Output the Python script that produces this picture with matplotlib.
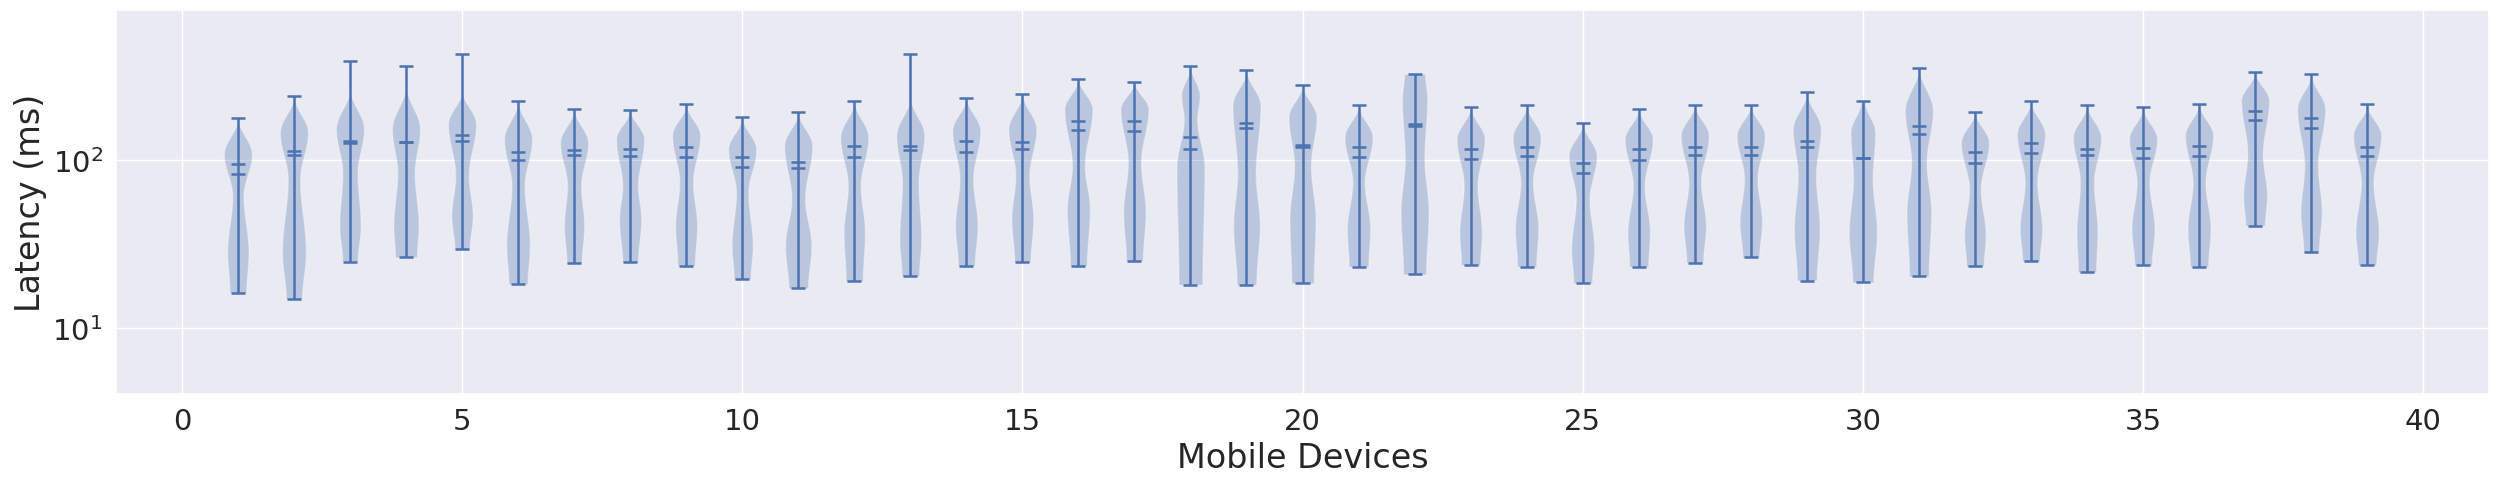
import matplotlib
matplotlib.use("Agg")
import matplotlib.pyplot as plt
import numpy as np
import seaborn as sns

# latency per mobile device (ms)
devices = np.arange(1, 40)
lat_min = [16.2, 14.8, 24.8, 26.3, 29.3, 18.2, 24.2, 24.5, 23.4, 19.5,
           17.2, 18.9, 20.2, 23.4, 24.6, 23.4, 25.1, 18.05, 18.0, 18.4,
           23.1, 20.8, 23.6, 23.1, 18.4, 23.1, 24.4, 26.3, 19.1, 18.6,
           20.2, 23.2, 24.9, 21.4, 23.5, 23.1, 40.6, 28.1, 23.6]
lat_max = [177, 240, 391, 362, 427, 224, 200.5, 199.6, 214.8, 180.5,
           193.3, 224, 427, 235.4, 248.7, 304, 291.8, 362, 343, 281.4,
           211.8, 326, 208, 211.8, 166.3, 201.4, 213.8, 212.8, 253.2, 224,
           355.4, 194, 224, 212.8, 206, 216.7, 336.5, 326, 214.8]
lat_median = [94.7, 113, 130.4, 127.5, 140.9, 112.1, 115.2, 116.8, 120.1, 104.7,
              97.3, 121.8, 120.6, 129.8, 128.6, 170.9, 170.1, 137, 165.5, 122.9,
              119, 164, 115.8, 119, 95.5, 115.8, 119.5, 120.1, 129.2, 102.3,
              159.5, 112.1, 126.3, 116.8, 117.9, 120.6, 195, 178, 120.1]
lat_mean = [82.5, 106.6, 126.9, 127.5, 129.2, 100.5, 107.1, 106.1, 104.2, 91.2,
            89.6, 104.7, 115.2, 112.1, 115.8, 151, 149.6, 115.8, 154.5, 119,
            104.7, 160.2, 101.4, 105.2, 83.3, 100.5, 106.6, 107.1, 119.5, 102.3,
            143.6, 96.4, 110.6, 107.1, 102.3, 106.1, 173.2, 155.2, 106.1]

# density profile: where the body ends on top, and its bulges / waist
lat_tip = [177, 240, 265, 277, 259, 224, 200.5, 199.6, 214.8, 180.5,
           193.3, 224, 236, 235.4, 248.7, 304, 291.8, 362, 343, 281.4,
           211.8, 326, 208, 211.8, 166.3, 201.4, 213.8, 212.8, 253.2, 224,
           355.4, 194, 224, 212.8, 206, 216.7, 336.5, 326, 214.8]
w_tip = [0.03] * 21 + [0.75] + [0.03] * 7 + [0.15] + [0.03] * 9
lat_hi = [108.6, 146, 153, 153, 164, 133, 127, 133, 140, 116,
          121.8, 136.5, 140, 149.6, 153, 201, 201, 242, 211, 179.7,
          136.5, 231, 133, 136.5, 106.1, 133, 140, 140, 153, 146,
          197, 127, 142.9, 136.5, 133, 140, 226, 201, 140]
w_hi = [1.0] * 17 + [0.66, 1.0, 1.0, 1.0, 0.9] + [1.0] * 7 + [0.88] + [1.0] * 9
lat_waist = [61, 77, 84, 84, 80.7, 70.3, 70.3, 70, 73.6, 64,
             58.5, 70.3, 73.6, 77, 80.7, 92.5, 96.9, 175, 84, 92.5,
             73.6, 101, 70.3, 73.6, 58.5, 70.3, 73.6, 77, 80.7, 77,
             96.9, 67.2, 73.6, 73.6, 73.6, 73.6, 108.6, 92.5, 73.6]
w_waist = [0.40, 0.44, 0.54, 0.62, 0.48, 0.47, 0.50, 0.56, 0.49, 0.44,
           0.49, 0.46, 0.59, 0.49, 0.50, 0.46, 0.47, 0.48, 0.66, 0.60,
           0.44, 0.70, 0.49, 0.45, 0.49, 0.42, 0.45, 0.48, 0.65, 0.70,
           0.55, 0.42, 0.45, 0.50, 0.46, 0.46, 0.55, 0.49, 0.45]
lat_lo = [28.1, 28.1, 40.6, 40.6, 46.6, 30.8, 40.6, 44.5, 40.6, 30.8,
          30.8, 37, 33.8, 40.6, 44.5, 51, 48.8, 90, 40.6, 44.5,
          38.8, 48.8, 37, 38.8, 29.5, 37, 40.6, 42.5, 38.8, 37,
          48.8, 35.4, 38.8, 37, 38.8, 38.8, 61.2, 48.8, 37]
w_lo = [0.76, 0.85, 0.76, 0.90, 0.76, 0.84, 0.72, 0.79, 0.78, 0.75,
        0.94, 0.76, 0.78, 0.80, 0.78, 0.82, 0.80, 1.0, 0.95, 0.93,
        0.83, 1.0, 0.80, 0.83, 0.82, 0.80, 0.80, 0.80, 0.92, 1.0,
        0.88, 0.77, 0.80, 0.75, 0.82, 0.82, 0.85, 0.76, 0.83]
w_min = [0.60, 0.57, 0.55, 0.78, 0.54, 0.68, 0.54, 0.56, 0.62, 0.60,
         0.70, 0.61, 0.62, 0.60, 0.58, 0.60, 0.60, 0.85, 0.70, 0.80,
         0.70, 0.82, 0.68, 0.68, 0.67, 0.68, 0.60, 0.60, 0.70, 0.75,
         0.70, 0.62, 0.62, 0.65, 0.62, 0.65, 0.70, 0.55, 0.65]

sns.set_theme(style="darkgrid")


def outline(knots, widths, n=30):
    # eased outline between the profile knots (log axis), so the body is rounded
    ys, ws = [], []
    lk = np.log10(knots)
    for j in range(len(knots) - 1):
        t = np.linspace(0, 1, n, endpoint=False)
        e = (1 - np.cos(np.pi * t)) / 2
        ys.extend(10 ** (lk[j] + (lk[j + 1] - lk[j]) * t))
        ws.extend(widths[j] + (widths[j + 1] - widths[j]) * e)
    ys.append(knots[-1])
    ws.append(widths[-1])
    return ys, ws


vpstats = []
for i in range(len(devices)):
    c, v = outline([lat_min[i], lat_lo[i], lat_waist[i], lat_hi[i], lat_tip[i]],
                   [w_min[i], w_lo[i], w_waist[i], w_hi[i], w_tip[i]])
    vpstats.append({
        "coords": c,
        "vals": v,
        "mean": lat_mean[i],
        "median": lat_median[i],
        "min": lat_min[i],
        "max": lat_max[i],
        "quantiles": [],
    })

fig = plt.figure(figsize=(25, 4.89), dpi=100)
ax = fig.add_axes([0.0464, 0.1922, 0.9492, 0.7853])
parts = ax.violin(vpstats, positions=devices, widths=0.5,
                  showmeans=True, showextrema=True, showmedians=True)
for key in ["cmins", "cmaxes", "cbars", "cmeans", "cmedians"]:
    parts[key].set_linewidth(1.8)

ax.set_yscale("log")
ax.set_ylim(4.02, 785)
ax.set_xlabel("Mobile Devices", fontsize=24)
ax.set_ylabel("Latency (ms)", fontsize=24)
ax.tick_params(labelsize=21)

fig.savefig("out.png", dpi=100)
